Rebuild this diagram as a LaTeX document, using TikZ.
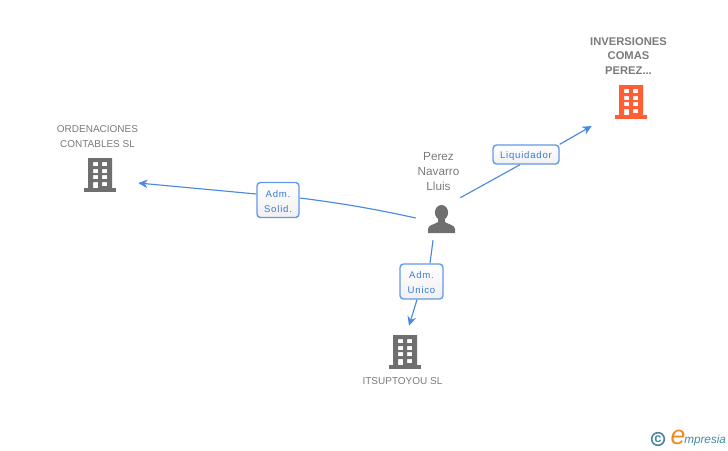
\documentclass[tikz,border=0pt]{standalone}
\usepackage{fontspec}
\setmainfont{Liberation Sans}
\newfontfamily\lblfont[LetterSpace=8]{Liberation Sans}
\usetikzlibrary{arrows.meta}
\definecolor{txtgray}{HTML}{7A7A7A}
\definecolor{icongray}{HTML}{6F6F6F}
\definecolor{iconorange}{HTML}{FF5F35}
\definecolor{edgeblue}{HTML}{4A88E2}
\definecolor{lblborder}{HTML}{6299E8}
\definecolor{lbltext}{HTML}{3A7ADC}
\definecolor{logoblue}{HTML}{4A87A0}
\definecolor{logoorange}{HTML}{F08A1E}
\tikzset{
  x=0.75pt,y=-0.75pt,
  nametext/.style={font=\fontsize{7.5pt}{11.25pt}\selectfont,text=txtgray,align=center,inner sep=0pt},
  boldtext/.style={font=\bfseries\fontsize{8.4pt}{11pt}\selectfont,text=txtgray,align=center,inner sep=0pt},
  pertext/.style={font=\fontsize{8.8pt}{11.25pt}\selectfont,text=txtgray,align=center,inner sep=0pt},
  iconbox/.style={minimum width=24pt,minimum height=25.5pt,inner sep=0pt},
  rolebox/.style={draw=lblborder,line width=1.05pt,rounded corners=2.6pt,top color=white,bottom color=white!94!black,
    text=lbltext,align=center,inner sep=0pt,font=\lblfont\fontsize{7.2pt}{11.25pt}\selectfont},
  link/.style={draw=edgeblue,line width=0.85pt},
  linkarrow/.style={link,-{Stealth[length=7pt,width=6.5pt]}},
  pics/building/.style={code={
    \fill[#1,even odd rule] (-12,-17) rectangle (12,14)
      (-7,-13) rectangle (-2,-9) (2,-13) rectangle (7,-9)
      (-7,-6) rectangle (-2,-2) (2,-6) rectangle (7,-2)
      (-7,0) rectangle (-2,4) (2,0) rectangle (7,4)
      (-7,7) rectangle (-2,14) (2,7) rectangle (7,11);
    \fill[#1] (-16,13) rectangle (16,17);
  }},
  pics/personicon/.style={code={
    \fill[icongray] (0,-7.5) ellipse (6.6 and 7.5);
    \fill[icongray] (-3.5,-3) rectangle (3.5,5);
    \fill[icongray] (-13.5,13) -- (-13.5,9) .. controls (-13.5,5) and (-7,4.5) .. (-3.5,2)
      -- (3.5,2) .. controls (7,4.5) and (13.5,5) .. (13.5,9) -- (13.5,13) -- cycle;
  }},
}
\begin{document}
\begin{tikzpicture}
\useasboundingbox (0,0) rectangle (728,450);
\pic at (100,175) {building=icongray};
\pic at (631,102) {building=iconorange};
\pic at (405,352) {building=icongray};
\pic at (441.5,220) {personicon};
\node[iconbox] (ord) at (100,175) {};
\node[iconbox] (inv) at (631,102) {};
\node[iconbox] (its) at (405,352) {};
\node[minimum width=28.5pt,minimum height=33pt,inner sep=0pt] (per) at (441,220) {};
\node[nametext] (ordt) at (97.5,137) {ORDENACIONES\\CONTABLES SL};
\node[nametext] (itst) at (402.5,381) {ITSUPTOYOU SL};
\node[pertext] (pert) at (438.5,172) {Perez\\Navarro\\Lluis};
\node[boldtext] (invt) at (628.5,56) {INVERSIONES\\COMAS\\PEREZ...};
\node[rolebox,minimum width=31.5pt,minimum height=26.25pt] (solid) at (278,200) {\rule{0pt}{7pt}Adm.\\Solid.};
\node[rolebox,minimum width=49.5pt,minimum height=14.25pt] (liq) at (526,154.5) {\rule{0pt}{7.5pt}Liquidador};
\node[rolebox,minimum width=32.25pt,minimum height=26.25pt] (unico) at (421.5,281.5) {\rule{0pt}{7pt}Adm.\\Unico};
\path[link] ([shift={(-6,-2)}]per.west) .. controls (375,209) and (340,203) .. ([shift={(0,-2)}]solid.east);
\path[linkarrow] ([shift={(0,-6)}]solid.west) -- ([shift={(22,8)}]ord.east);
\path[link] (per.north east) -- ([shift={(-6,0)}]liq.south);
\path[linkarrow] (liq.north east) -- ([shift={(-23,24)}]inv.west);
\path[link] ([shift={(-8,-2)}]per.south) -- ([shift={(8.5,0)}]unico.north);
\path[linkarrow] ([shift={(-4.5,0)}]unico.south) -- ([shift={(4,-9)}]its.north);
\node[circle,draw=logoblue,line width=1.2pt,minimum size=9.5pt,inner sep=0pt,text=logoblue,font=\bfseries\fontsize{9.5pt}{9.5pt}\selectfont] (copy) at (658,439) {c};
\node[inner sep=0pt,text=logoorange,font=\itshape\fontsize{20pt}{20pt}\selectfont] (loge) at (678,437.5) {e};
\node[anchor=base west,inner sep=0pt,text=logoblue,font=\itshape\fontsize{8.8pt}{9pt}\selectfont] (logt) at (684,443) {mpresia};
\end{tikzpicture}
\end{document}
